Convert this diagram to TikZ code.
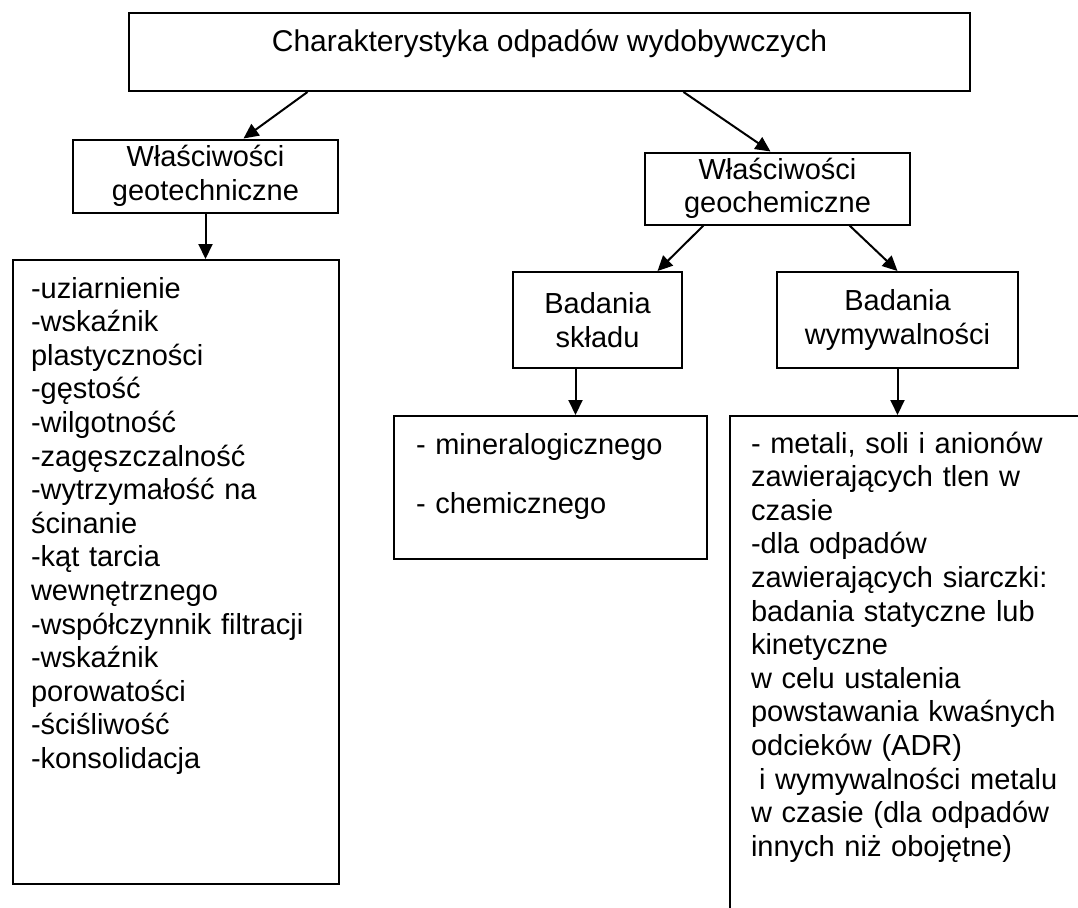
\documentclass[tikz,border=0pt]{standalone}
\usepackage{fontspec}
\setmainfont{Liberation Sans}
\usetikzlibrary{arrows.meta}

\begin{document}
\begin{tikzpicture}[
  x=1pt,y=-1pt,
  font=\fontsize{29pt}{33.6pt}\selectfont,
  line width=2pt,
  box/.style={draw,inner sep=0pt},
  hbox/.style={box,align=center},
  listbox/.style={draw,anchor=north west,align=left,inner ysep=0pt,text height=#1},
  arr/.style={-{Triangle[length=15pt,width=14pt]}}
]
\useasboundingbox (0,0) rectangle (1078,907);

\node[box,font=\fontsize{30pt}{34pt}\selectfont,minimum width=841pt,minimum height=78pt,text height=21pt,text depth=21pt] (char) at (549.5,52) {Charakterystyka odpadów wydobywczych};

\node[hbox,minimum width=265pt,minimum height=73pt] (geot) at (205.5,176) {Właściwości\\geotechniczne};
\node[hbox,minimum width=265pt,minimum height=72pt] (geoch) at (777.5,188.5) {Właściwości\\geochemiczne};
\node[hbox,minimum width=169pt,minimum height=96pt] (skl) at (597.5,320) {Badania\\składu};
\node[hbox,minimum width=241pt,minimum height=96pt] (wym) at (897.5,320) {Badania\\wymywalności};

\node[listbox=38pt,text depth=586pt,text width=290pt,inner xsep=18pt] (geotl) at (12,259)
  {-uziarnienie\\-wskaźnik\\plastyczności\\-gęstość\\-wilgotność\\-zagęszczalność\\-wytrzymałość na\\ścinanie\\-kąt tarcia\\wewnętrznego\\-współczynnik filtracji\\-wskaźnik\\porowatości\\-ściśliwość\\-konsolidacja};
\node[listbox=38pt,text depth=105pt,text width=269pt,inner xsep=22pt] (skll) at (393,415)
  {- mineralogicznego\\[26pt]- chemicznego};
\node[listbox=37pt,text depth=520pt,text width=320pt,inner xsep=21pt] (wyml) at (729,415)
  {- metali, soli i anionów\\zawierających tlen w\\czasie\\-dla odpadów\\zawierających siarczki:\\badania statyczne lub\\kinetyczne\\w celu ustalenia\\powstawania kwaśnych\\odcieków (ADR)\\\hspace*{0.28em}i wymywalności metalu\\w czasie (dla odpadów\\innych niż obojętne)};

\draw[arr] ([xshift=-242pt]char.south) -- ([xshift=38pt]geot.north);
\draw[arr] ([xshift=134pt]char.south) -- ([xshift=-7pt]geoch.north);
\draw[arr] (geot.south) -- (geot.south |- geotl.north);
\draw[arr] ([xshift=-74pt]geoch.south) -- ([xshift=60pt]skl.north);
\draw[arr] ([xshift=72pt]geoch.south) -- (wym.north);
\draw[arr] ([xshift=-22pt]skl.south) -- ([xshift=-22pt]skl.south |- skll.north);
\draw[arr] (wym.south) -- (wym.south |- wyml.north);
\end{tikzpicture}
\end{document}
